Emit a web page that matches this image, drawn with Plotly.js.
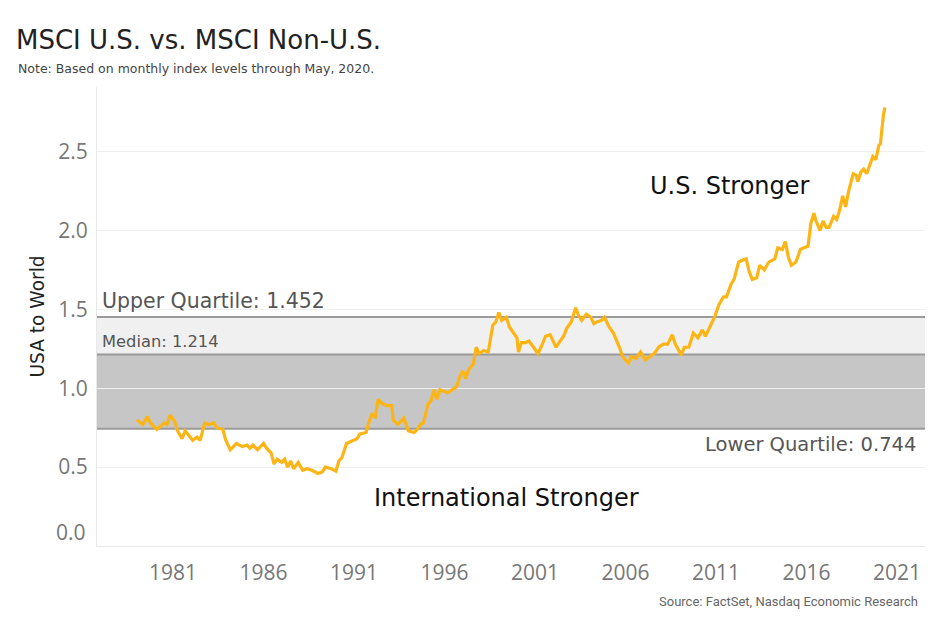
<!DOCTYPE html>
<html>
<head>
<meta charset="utf-8">
<script src="https://cdn.plot.ly/plotly-3.0.1.min.js"></script>
<style>html,body{margin:0;padding:0;background:#fff;}#chart{width:936px;height:624px;}</style>
</head>
<body>
<div id="chart"></div>
<script>
const dates = ["1979-01","1979-04","1979-05","1979-08","1979-10","1980-02","1980-05","1980-07","1980-09","1980-11",
"1981-02","1981-04","1981-07","1981-09","1981-12","1982-02","1982-05","1982-07","1982-10","1983-01",
"1983-04","1983-06","1983-10","1983-12","1984-03","1984-07","1984-11","1985-02","1985-04","1985-06",
"1985-09","1986-01","1986-03","1986-06","1986-08","1986-10","1987-01","1987-03","1987-05","1987-07",
"1987-09","1987-12","1988-03","1988-06","1988-09","1989-01","1989-04","1989-06","1989-10","1990-01",
"1990-03","1990-05","1990-08","1990-12","1991-03","1991-05","1991-09","1991-11","1992-01","1992-03",
"1992-05","1992-08","1992-11","1993-02","1993-03","1993-06","1993-10","1994-01","1994-05","1994-07",
"1994-09","1994-11","1995-02","1995-04","1995-06","1995-08","1995-10","1996-01","1996-03","1996-06",
"1996-09","1996-11","1997-01","1997-03","1997-05","1997-08","1997-10","1997-12","1998-03","1998-06",
"1998-09","1998-11","1999-01","1999-03","1999-06","1999-08","1999-10","2000-01","2000-02","2000-04",
"2000-07","2000-09","2000-12","2001-03","2001-05","2001-08","2001-11","2002-03","2002-05","2002-08",
"2002-10","2003-01","2003-04","2003-06","2003-08","2003-11","2004-02","2004-04","2004-06","2004-09",
"2004-11","2005-02","2005-05","2005-09","2005-11","2006-03","2006-05","2006-08","2006-11","2007-02",
"2007-05","2007-08","2007-11","2008-02","2008-05","2008-08","2008-10","2009-02","2009-04","2009-07",
"2009-10","2010-01","2010-04","2010-06","2010-09","2010-12","2011-03","2011-06","2011-08","2011-11",
"2012-01","2012-04","2012-06","2012-09","2012-11","2013-01","2013-04","2013-06","2013-09","2013-12",
"2014-04","2014-06","2014-09","2014-11","2015-01","2015-03","2015-06","2015-09","2015-11","2016-02",
"2016-04","2016-06","2016-07","2016-10","2016-12","2017-02","2017-04","2017-07","2017-09","2017-11",
"2018-01","2018-03","2018-05","2018-08","2018-10","2018-11","2019-01","2019-03","2019-05","2019-07",
"2019-09","2019-11","2020-01","2020-02","2020-03","2020-04","2020-05"];
const ratio = [0.80,0.78,0.77,0.82,0.78,0.74,0.76,0.78,0.77,0.83,
0.79,0.73,0.68,0.73,0.69,0.67,0.69,0.67,0.78,0.77,
0.78,0.75,0.74,0.67,0.61,0.65,0.63,0.64,0.62,0.64,
0.61,0.65,0.62,0.59,0.52,0.55,0.53,0.55,0.50,0.54,
0.49,0.53,0.48,0.49,0.48,0.46,0.47,0.50,0.49,0.475,
0.54,0.56,0.65,0.67,0.68,0.71,0.72,0.79,0.84,0.81,
0.93,0.90,0.89,0.89,0.80,0.77,0.81,0.73,0.72,0.74,
0.77,0.78,0.90,0.92,0.99,0.93,0.99,0.98,0.97,0.99,
1.01,1.07,1.11,1.06,1.12,1.15,1.26,1.22,1.24,1.23,
1.40,1.42,1.48,1.43,1.45,1.39,1.36,1.32,1.23,1.29,
1.29,1.30,1.26,1.22,1.26,1.33,1.34,1.26,1.29,1.33,
1.38,1.42,1.51,1.46,1.43,1.47,1.45,1.41,1.42,1.43,
1.45,1.39,1.35,1.26,1.20,1.16,1.20,1.19,1.23,1.18,
1.20,1.22,1.26,1.28,1.28,1.34,1.28,1.21,1.26,1.26,
1.35,1.32,1.37,1.33,1.39,1.45,1.53,1.58,1.58,1.66,
1.69,1.80,1.81,1.82,1.74,1.69,1.70,1.78,1.75,1.80,
1.82,1.89,1.88,1.93,1.83,1.78,1.80,1.88,1.89,1.90,
2.05,2.11,2.07,2.00,2.06,2.02,2.02,2.09,2.07,2.13,
2.22,2.15,2.25,2.36,2.35,2.31,2.37,2.39,2.36,2.42,
2.47,2.45,2.54,2.55,2.65,2.73,2.78];

const lowerQuartile = 0.744, median = 1.214, upperQuartile = 1.452;
const yTicks = [0.5, 1.0, 1.5, 2.0, 2.5];
const yBottomLabel = "0.0";
const xTickYears = ["1981","1986","1991","1996","2001","2006","2011","2016","2021"];

const narrow = '"Liberation Sans Narrow", "Arial Narrow", Roboto, sans-serif';
const tickFam = '"Open Sans", "Noto Sans", sans-serif';
const main = '"DejaVu Sans", Verdana, sans-serif';

const trace = {
  x: dates, y: ratio, type: 'scatter', mode: 'lines',
  line: {color: '#FDB515', width: 3.2}, hoverinfo: 'x+y'
};

const layout = {
  width: 936, height: 624,
  margin: {l: 97, r: 11, t: 87, b: 78},
  paper_bgcolor: '#fff', plot_bgcolor: '#fff',
  showlegend: false,
  title: {text: 'MSCI U.S. vs. MSCI Non-U.S.', x: 16/936, xref: 'container', xanchor: 'left',
          y: 1 - 40/624, yref: 'container', yanchor: 'middle',
          font: {family: main, size: 26, color: '#222'}},
  xaxis: {
    type: 'date', range: ['1976-10-18', '2022-07-20'],
    tickvals: xTickYears.map(y => y + '-01-01'), ticktext: xTickYears,
    showgrid: false, zeroline: false,
    showline: true, linecolor: '#e8e8e8', linewidth: 1,
    ticks: '', ticklabelstandoff: 8,
    tickfont: {family: tickFam, size: 21, color: '#777'}
  },
  yaxis: {
    range: [0, 2.91], tickvals: yTicks, ticktext: yTicks.map(v => v.toFixed(1)),
    showgrid: true, gridcolor: '#efefef', gridwidth: 1, zeroline: false,
    showline: true, linecolor: '#e8e8e8', linewidth: 1,
    ticks: '', ticklabelstandoff: 4,
    tickfont: {family: tickFam, size: 21, color: '#777'},
    title: {text: 'USA to World', standoff: 8, font: {family: main, size: 18.6, color: '#222'}}
  },
  shapes: [
    {type: 'rect', xref: 'paper', x0: 0, x1: 1, yref: 'y', y0: lowerQuartile, y1: median,
     fillcolor: '#c6c6c6', line: {width: 0}, layer: 'below'},
    {type: 'rect', xref: 'paper', x0: 0, x1: 1, yref: 'y', y0: median, y1: upperQuartile,
     fillcolor: '#f0f0f0', line: {width: 0}, layer: 'below'},
    {type: 'line', xref: 'paper', x0: 0, x1: 1, yref: 'y', y0: upperQuartile, y1: upperQuartile,
     line: {color: '#9a9a9a', width: 2}, layer: 'below'},
    {type: 'line', xref: 'paper', x0: 0, x1: 1, yref: 'y', y0: median, y1: median,
     line: {color: '#9a9a9a', width: 2}, layer: 'below'},
    {type: 'line', xref: 'paper', x0: 0, x1: 1, yref: 'y', y0: lowerQuartile, y1: lowerQuartile,
     line: {color: '#9a9a9a', width: 2}, layer: 'below'}
  ],
  annotations: [
    {text: yBottomLabel, xref: 'paper', x: -0.011, xanchor: 'right',
     yref: 'paper', y: 0.03, yanchor: 'middle', showarrow: false,
     font: {family: tickFam, size: 21, color: '#777'}},
    {text: 'Upper Quartile: ' + upperQuartile.toFixed(3), xref: 'paper', x: 0.004, xanchor: 'left',
     yref: 'y', y: upperQuartile, yanchor: 'bottom', yshift: 2, showarrow: false,
     font: {family: main, size: 20.5, color: '#555'}},
    {text: 'Median: ' + median.toFixed(3), xref: 'paper', x: 0.004, xanchor: 'left',
     yref: 'y', y: median, yanchor: 'bottom', yshift: 2, showarrow: false,
     font: {family: main, size: 16.3, color: '#555'}},
    {text: 'Lower Quartile: ' + lowerQuartile.toFixed(3), xref: 'paper', x: 0.9915, xanchor: 'right',
     yref: 'y', y: lowerQuartile, yanchor: 'top', yshift: -2, showarrow: false,
     font: {family: main, size: 19.5, color: '#555'}},
    {text: 'U.S. Stronger', xref: 'paper', x: 0.7645, xanchor: 'center',
     yref: 'paper', y: 0.784, yanchor: 'middle', showarrow: false,
     font: {family: main, size: 24, color: '#111'}},
    {text: 'International Stronger', xref: 'paper', x: 0.495, xanchor: 'center',
     yref: 'paper', y: 0.1046, yanchor: 'middle', showarrow: false,
     font: {family: main, size: 24, color: '#111'}},
    {text: 'Note: Based on monthly index levels through May, 2020.', xref: 'paper', x: -0.0978, xanchor: 'left',
     yref: 'paper', y: 1.041, yanchor: 'middle', showarrow: false,
     font: {family: main, size: 12.5, color: '#444'}},
    {text: 'Source: FactSet, Nasdaq Economic Research', xref: 'paper', x: 0.994, xanchor: 'right',
     yref: 'paper', y: -0.122, yanchor: 'middle', showarrow: false,
     font: {family: narrow, size: 13, color: '#666'}}
  ]
};

Plotly.newPlot('chart', [trace], layout, {displayModeBar: false, staticPlot: true});
</script>
</body>
</html>
